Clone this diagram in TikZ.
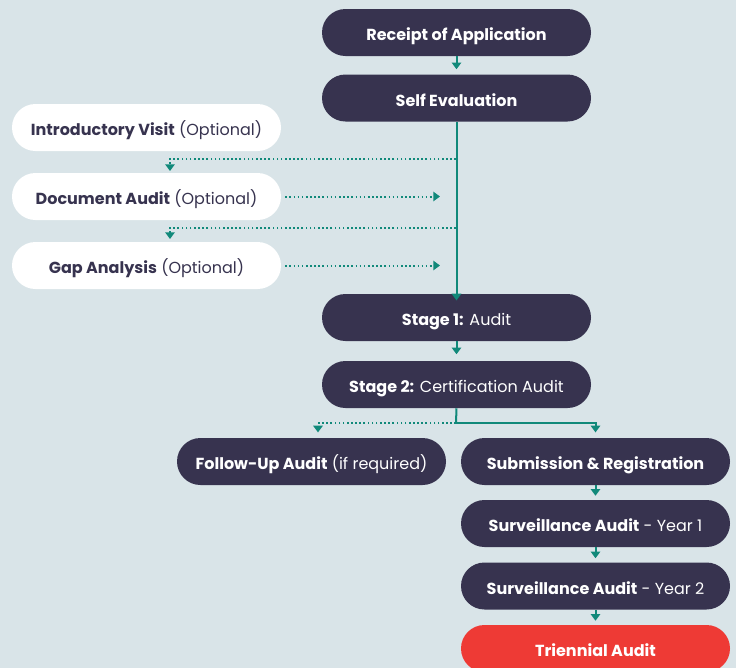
\documentclass[tikz,border=0pt]{standalone}
\usepackage{fontspec}
\setmainfont{Poppins}
\usetikzlibrary{arrows.meta}
\definecolor{bg}{HTML}{D9E4E8}
\definecolor{navy}{HTML}{37334F}
\definecolor{teal}{HTML}{11897A}
\definecolor{redbox}{HTML}{EE3A35}
\tikzset{
  box/.style={draw=none, fill=navy, text=white, rounded corners=17.6pt,
    minimum width=201.75pt, minimum height=35.25pt, inner sep=0pt,
    text height=12pt, text depth=0pt,
    font=\fontsize{12}{14}\selectfont},
  wbox/.style={box, fill=white, text=navy},
  rbox/.style={box, fill=redbox},
  link/.style={draw=teal, line width=1.5pt, -{Triangle[width=7pt,length=5pt]}},
  plain/.style={draw=teal, line width=1.5pt},
  dotlink/.style={draw=teal, line width=1.5pt, dash pattern=on 1.2pt off 1.9pt, -{Triangle[width=7pt,length=5pt]}},
}
\begin{document}
\begin{tikzpicture}[x=0.75pt,y=-0.75pt]
\clip (0,0) rectangle (736,668);
\fill[bg] (0,0) rectangle (736,668);
\useasboundingbox (0,0) rectangle (736,668);

\node[box]  (rec)  at (456.5,32.5)  {\textbf{Receipt of Application}};
\node[box]  (self) at (456.5,98)    {\textbf{Self Evaluation}};
\node[wbox] (intro) at (146.5,127.5) {\textbf{Introductory Visit} (Optional)};
\node[wbox] (doc)  at (146.5,196.5) {\textbf{Document Audit} (Optional)};
\node[wbox] (gap)  at (146.5,265.5) {\textbf{Gap Analysis} (Optional)};
\node[box]  (st1)  at (456.5,317.5) {\textbf{Stage 1:} Audit};
\node[box]  (st2)  at (456.5,384.5) {\textbf{Stage 2:} Certification Audit};
\node[box]  (fol)  at (311.5,461.5) {\textbf{Follow-Up Audit} (if required)};
\node[box]  (sub)  at (595.5,461.5) {\textbf{Submission \& Registration}};
\node[box]  (sv1)  at (595.5,523.5) {\textbf{Surveillance Audit} - Year 1};
\node[box]  (sv2)  at (595.5,586)   {\textbf{Surveillance Audit} - Year 2};
\node[rbox] (tri)  at (595.5,648.5) {\textbf{Triennial Audit}};

\coordinate (j1) at (456,159);
\coordinate (j2) at (456,228);
\coordinate (j3) at (456,423);
\coordinate (m1) at (440,196.5);
\coordinate (m2) at (440,265.5);

\draw[link] (rec.south) -- ++(0,13);
\draw[link] (self.south) -- ([yshift=-5pt]st1.north);
\draw[dotlink] (j1) -| (170,171);
\draw[dotlink] (doc.east) ++(4,0) -- (m1);
\draw[dotlink] (j2) -| (170,239);
\draw[dotlink] (gap.east) ++(4,0) -- (m2);
\draw[link] (st1.south) -- ++(0,13);
\draw[plain] (st2.south) -- (j3);
\draw[link] (j3) -| ([yshift=4pt]sub.north);
\draw[dotlink] (j3) -| ([yshift=4pt]fol.north -| 318,0);
\draw[link] (sub.south) -- ++(0,10.5);
\draw[link] (sv1.south) -- ++(0,11);
\draw[link] (sv2.south) -- ++(0,11);
\end{tikzpicture}
\end{document}
